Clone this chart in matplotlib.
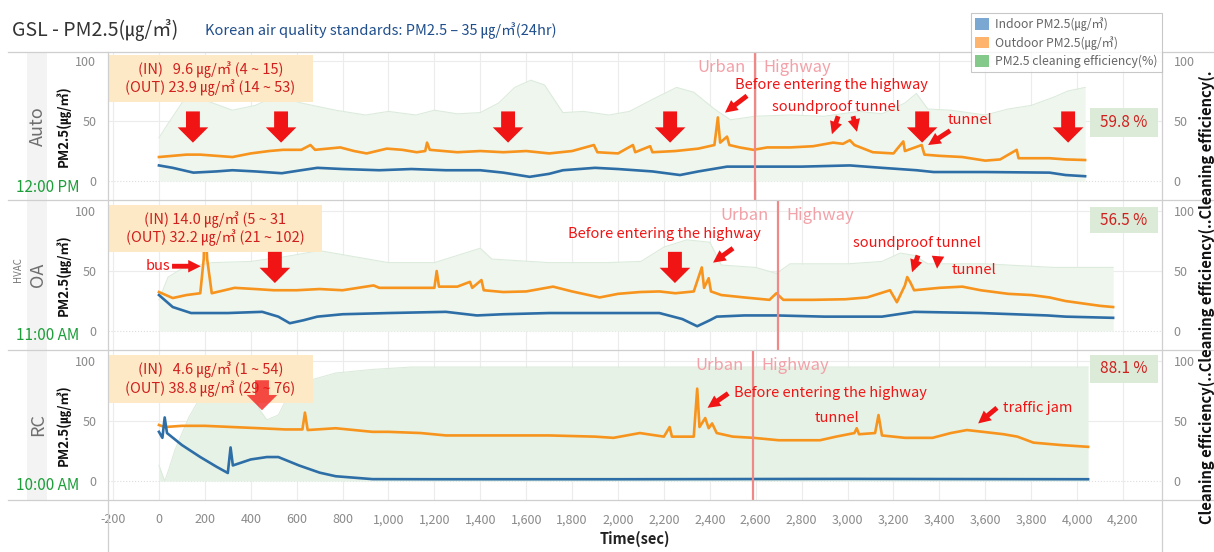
import matplotlib
matplotlib.use("Agg")
import matplotlib.pyplot as plt
from matplotlib.patches import Patch, Rectangle
from matplotlib.lines import Line2D

plt.rcParams['font.family'] = ['Noto Sans CJK KR', 'DejaVu Sans']

# ---------------- data (time in seconds, PM2.5 in ug/m3, efficiency in %) ----------------
x_ticks = list(range(-200, 4201, 200))

# Auto (12:00 PM)
auto_out_t = [0, 60, 120, 180, 250, 320, 400, 480, 540, 620, 660, 680, 790, 850, 905, 993, 1060, 1123,
              1160, 1168, 1180, 1300, 1400, 1500, 1600, 1700, 1800, 1895, 1910, 2000, 2065, 2075, 2140,
              2150, 2250, 2350, 2420, 2435, 2445, 2475, 2485, 2530, 2590, 2650, 2750, 2850, 2937, 2980,
              3010, 3030, 3110, 3200, 3243, 3250, 3323, 3335, 3400, 3500, 3600, 3665, 3737, 3745, 3800,
              3880, 3950, 4035]
auto_out = [20, 21, 22, 22, 21, 20, 23, 25, 26, 26, 30, 26, 28, 25, 23, 27, 26, 24,
            25, 32, 26, 24, 25, 24, 25, 23, 25, 30, 24, 23, 30, 24, 29,
            24, 25, 27, 30, 53, 32, 37, 30, 28, 26, 28, 28, 29, 32, 31,
            34, 30, 24, 23, 33, 25, 30, 22, 21, 20, 17, 18, 26, 19, 19,
            19, 18, 17.5]
auto_in_t = [0, 60, 150, 250, 320, 420, 535, 620, 690, 800, 960, 1100, 1250, 1400, 1500, 1615, 1700,
             1760, 1900, 2000, 2150, 2270, 2350, 2475, 2600, 2800, 3010, 3150, 3300, 3375, 3600, 3880,
             3950, 4035]
auto_in = [13, 11, 7, 8, 9, 8, 6.5, 9, 11, 10, 9, 10, 9, 9, 7, 3.5, 6,
           9, 11, 10, 8, 5, 8, 12, 12, 12, 13, 11, 9, 7.5, 7.5, 7,
           5, 4]
auto_eff_t = [0, 30, 110, 160, 220, 320, 420, 500, 540, 620, 770, 900, 1000, 1120, 1200, 1300, 1400,
              1480, 1550, 1620, 1680, 1760, 1850, 1960, 2050, 2150, 2255, 2330, 2420, 2490, 2600, 2750,
              2900, 3050, 3150, 3250, 3300, 3350, 3450, 3600, 3700, 3800, 3900, 3960, 4035]
auto_eff = [36, 45, 68, 70, 66, 59, 63, 70, 70, 65, 59, 55, 58, 55, 59, 56, 57,
            65, 78, 84, 80, 57, 58, 55, 58, 68, 78, 74, 60, 51, 54, 55,
            54, 58, 56, 65, 73, 60, 59, 55, 60, 63, 70, 75, 78]

# OA (11:00 AM)
oa_out_t = [0, 60, 120, 180, 195, 200, 210, 230, 330, 420, 500, 600, 700, 800, 935, 960, 1100, 1200,
            1210, 1220, 1300, 1355, 1365, 1405, 1415, 1500, 1600, 1717, 1800, 1920, 2000, 2095, 2180,
            2250, 2330, 2365, 2375, 2395, 2405, 2450, 2550, 2660, 2690, 2720, 2850, 2990, 3085, 3185,
            3215, 3250, 3260, 3275, 3290, 3400, 3500, 3580, 3700, 3800, 3880, 3950, 4025, 4100, 4157]
oa_out = [32.5, 27.5, 30, 31.5, 60, 100, 60, 31.5, 36, 35, 34, 34, 35, 34, 38, 36, 36, 36,
          50, 37, 37, 41, 36, 42.5, 34, 32.5, 33, 37, 33, 28, 31, 32.5, 33,
          31.5, 33, 53, 36, 44, 33, 30, 28, 26, 31.5, 26, 26, 26.5, 28, 34,
          24, 38, 45, 40, 34, 36, 37, 34, 31, 30, 28, 25, 23, 21, 20]
oa_in_t = [0, 30, 60, 140, 300, 450, 520, 570, 630, 690, 800, 1000, 1250, 1385, 1500, 1700, 2000,
           2180, 2280, 2345, 2400, 2430, 2550, 2690, 2900, 3150, 3290, 3580, 3870, 3950, 4157]
oa_in = [30, 25, 20, 15, 15, 16, 12, 6.5, 9, 12, 14, 15, 16, 13, 14, 15, 15,
         15, 10, 4, 9, 12, 13, 13, 12, 12, 16, 15, 13, 12, 11]
oa_eff_t = [0, 40, 100, 230, 400, 550, 700, 850, 1000, 1200, 1400, 1450, 1700, 1950, 2100, 2200,
            2300, 2400, 2450, 2600, 2690, 2750, 3000, 3150, 3230, 3290, 3350, 3600, 3900, 4157]
oa_eff = [26, 45, 52, 57, 58, 62, 67, 62, 57, 57, 69, 60, 57, 57, 58, 70,
          76, 74, 55, 53, 48, 56, 56, 58, 65, 63, 56, 56, 53, 53]

# RC (10:00 AM)
rc_out_t = [0, 25, 100, 200, 320, 440, 550, 625, 636, 648, 770, 930, 1000, 1140, 1250, 1500, 1700,
            1900, 1980, 2095, 2200, 2225, 2235, 2330, 2345, 2355, 2380, 2395, 2410, 2430, 2500, 2590,
            2700, 2880, 2950, 3030, 3040, 3050, 3120, 3135, 3150, 3250, 3370, 3450, 3520, 3590, 3680,
            3740, 3810, 3930, 4048]
rc_out = [46.7, 45, 46, 46, 45, 44, 43, 43, 57, 42.5, 44, 41, 41, 40, 38, 38, 38,
          37, 36, 40, 37, 45, 37, 37, 77, 45, 52.5, 44, 48, 40, 37, 36,
          34, 34, 37, 40, 44, 39, 40, 55, 38, 36, 36, 40, 42.5, 41, 39,
          37, 32, 30, 28.5]
rc_in_t = [0, 15, 25, 35, 100, 180, 250, 300, 312, 322, 400, 470, 520, 610, 700, 770, 930, 1200,
           2000, 3000, 4048]
rc_in = [41, 36, 53, 40, 30, 20, 12, 6.7, 28, 13, 18, 20, 20, 13, 7, 4, 1.6, 1.5,
         1.5, 1.8, 1.5]
rc_eff_t = [0, 25, 40, 70, 130, 190, 260, 330, 400, 440, 470, 520, 560, 620, 770, 930, 1100, 4048]
rc_eff = [13, 0, 8, 26, 53, 73, 80, 82, 80, 59, 51, 55, 70, 82, 90, 93, 95, 95]

# ---------------- style ----------------
C_IN = '#2e6ea6'
C_OUT = '#f7941d'
RED = '#f01414'
BOX_RED = '#d0201e'
PINK = '#f3a1a8'
GRID = '#ececec'
FRAME = '#cfcfcf'

W_PX, H_PX = 1214, 552
fig = plt.figure(figsize=(W_PX / 100, H_PX / 100), dpi=100)


def fx(px):
    return px / W_PX


def fy(py):
    return 1 - py / H_PX


L = fx(108)
W = fx(1162) - fx(108)

# background column behind the row names
fig.add_artist(Rectangle((fx(27), fy(500)), fx(20), fy(52) - fy(500), transform=fig.transFigure,
                         color='#f3f3f3', lw=0, zorder=0))

ax_auto = fig.add_axes([L, fy(200), W, 148 / H_PX])
ax_oa = fig.add_axes([L, fy(350), W, 150 / H_PX])
ax_rc = fig.add_axes([L, fy(500), W, 150 / H_PX])

panels = [
    (ax_auto, auto_out_t, auto_out, auto_in_t, auto_in, auto_eff_t, auto_eff, (-15.8, 107.5), '#eef6ee'),
    (ax_oa, oa_out_t, oa_out, oa_in_t, oa_in, oa_eff_t, oa_eff, (-15.8, 109.2), '#eef6ee'),
    (ax_rc, rc_out_t, rc_out, rc_in_t, rc_in, rc_eff_t, rc_eff, (-15.8, 109.2), '#e6f2e6'),
]

for ax, ot, ov, it, iv, et, ev, ylim, fill_c in panels:
    ax.set_facecolor('none')
    ax.fill_between(et, 0, ev, color=fill_c, lw=0, zorder=1)
    ax.plot(et, ev, color='#dcebdc', lw=0.8, zorder=1.5)
    ax.plot(ot, ov, color=C_OUT, lw=1.9, zorder=3)
    ax.plot(it, iv, color=C_IN, lw=1.9, zorder=3)
    ax.set_xlim(-222, 4370)
    ax.set_ylim(*ylim)
    ax.set_xticks(x_ticks)
    ax.set_yticks([0, 50, 100])
    for x in x_ticks:
        ax.axvline(x, color=GRID, lw=0.8, zorder=0.5)
    ax.axhline(50, color=GRID, lw=0.8, zorder=0.5)
    ax.axhline(100, color=GRID, lw=0.8, zorder=0.5)
    ax.axhline(0, color='#dddddd', lw=0.8, ls=':', zorder=0.5)
    for s in ax.spines.values():
        s.set_visible(False)
    ax.tick_params(axis='y', left=False, right=False, labelleft=True, labelright=True,
                   labelsize=9, labelcolor='#8a8a8a', pad=5)
    ax.tick_params(axis='x', bottom=False, labelbottom=False)

ax_rc.tick_params(axis='x', labelbottom=True, labelsize=9, labelcolor='#8a8a8a', pad=6)
ax_rc.set_xticklabels([f'{v:,}' for v in x_ticks])
ax_rc.set_xlabel('Time(sec)', fontsize=10.5, fontweight='bold', color='#222', labelpad=3)

# frame lines
for y0 in (52, 200, 350, 500):
    fig.add_artist(Line2D([fx(8), 1], [fy(y0), fy(y0)], transform=fig.transFigure, color=FRAME, lw=0.9))
for x0 in (108, 1162):
    fig.add_artist(Line2D([fx(x0), fx(x0)], [fy(52), 0], transform=fig.transFigure, color=FRAME, lw=0.9))

# urban / highway split
for ax, t_split, yv in [(ax_auto, 2597, 95), (ax_oa, 2697, 96), (ax_rc, 2588, 96)]:
    ax.axvline(t_split, color='#f08888', lw=1.6, zorder=4)
    ax.annotate('Urban', xy=(t_split, yv), xytext=(-7, 0), textcoords='offset points',
                ha='right', va='center', color=PINK, fontsize=12)
    ax.annotate('Highway', xy=(t_split, yv), xytext=(6, 0), textcoords='offset points',
                ha='left', va='center', color=PINK, fontsize=12)


def big_arrow(ax, t, y0, y1, alpha=1.0):
    ax.annotate('', xy=(t, y1), xytext=(t, y0),
                arrowprops=dict(arrowstyle='simple,head_length=1.1,head_width=2.2,tail_width=1.0',
                                color=RED, lw=0, shrinkA=0, shrinkB=0, alpha=alpha, mutation_scale=10),
                zorder=6)


def small_arrow(ax, t0, y0, t1, y1):
    ax.annotate('', xy=(t1, y1), xytext=(t0, y0),
                arrowprops=dict(arrowstyle='simple,head_length=0.9,head_width=0.9,tail_width=0.35',
                                color=RED, lw=0, shrinkA=0, shrinkB=0, mutation_scale=10),
                zorder=6)


def note(ax, t, y, s, ha='left'):
    ax.text(t, y, s, color=RED, fontsize=10.5, ha=ha, va='center', zorder=6)


def stat_box(ax, x1, y0, y1, text):
    ax.add_patch(Rectangle((0, y0), x1, y1 - y0, transform=ax.transAxes, color='#fde9c6', lw=0, zorder=5))
    ax.text(x1 / 2, (y0 + y1) / 2, text, transform=ax.transAxes, ha='center', va='center',
            multialignment='center', color=BOX_RED, fontsize=10.5, linespacing=1.15, zorder=6)


def pct_box(ax, y0, y1, text):
    ax.add_patch(Rectangle((0.932, y0), 0.064, y1 - y0, transform=ax.transAxes, color='#dcebd8', lw=0, zorder=5))
    ax.text(0.964, (y0 + y1) / 2, text, transform=ax.transAxes, ha='center', va='center',
            color=BOX_RED, fontsize=11, zorder=6)


# Auto annotations
stat_box(ax_auto, 0.1945, 0.662, 0.98, '(IN)   9.6 ㎍/㎥ (4 ~ 15)\n(OUT) 23.9 ㎍/㎥ (14 ~ 53)')
pct_box(ax_auto, 0.426, 0.622, '59.8 %')
for t in (148, 532, 1521, 2227, 3325, 3961):
    big_arrow(ax_auto, t, 58, 32)
note(ax_auto, 2510, 80, 'Before entering the highway')
small_arrow(ax_auto, 2562, 71, 2466, 57)
note(ax_auto, 2671, 62, 'soundproof tunnel')
small_arrow(ax_auto, 2959, 54, 2932, 39)
small_arrow(ax_auto, 3024, 54, 3041, 41)
note(ax_auto, 3438, 51, 'tunnel')
small_arrow(ax_auto, 3447, 42, 3351, 30)

# OA annotations
stat_box(ax_oa, 0.203, 0.653, 0.967, '(IN) 14.0 ㎍/㎥ (5 ~ 31\n(OUT) 32.2 ㎍/㎥ (21 ~ 102)')
pct_box(ax_oa, 0.78, 0.953, '56.5 %')
for t in (505, 2248):
    big_arrow(ax_oa, t, 66, 40)
note(ax_oa, 50, 54, 'bus', ha='right')
small_arrow(ax_oa, 57, 54, 182, 54)
note(ax_oa, 1782, 81, 'Before entering the highway')
small_arrow(ax_oa, 2501, 69, 2414, 57)
note(ax_oa, 3024, 73, 'soundproof tunnel')
small_arrow(ax_oa, 3307, 63, 3281, 49)
small_arrow(ax_oa, 3394, 62, 3390, 52)
note(ax_oa, 3455, 51, 'tunnel')

# RC annotations
stat_box(ax_rc, 0.1945, 0.647, 0.967, '(IN)   4.6 ㎍/㎥ (1 ~ 54)\n(OUT) 38.8 ㎍/㎥ (29 ~ 76)')
pct_box(ax_rc, 0.78, 0.967, '88.1 %')
big_arrow(ax_rc, 449, 84, 59, alpha=0.75)
note(ax_rc, 2505, 73, 'Before entering the highway')
small_arrow(ax_rc, 2480, 73, 2390, 61)
note(ax_rc, 2954, 52.5, 'tunnel', ha='center')
note(ax_rc, 3678, 61, 'traffic jam')
small_arrow(ax_rc, 3651, 61, 3569, 48)

# left-side labels
for name, time_lbl, yc in [('Auto', '12:00 PM', 126), ('OA', '11:00 AM', 275), ('RC', '10:00 AM', 425)]:
    fig.text(fx(38), fy(yc), name, rotation=90, ha='center', va='center', fontsize=13, color='#6e6e6e')
    fig.text(fx(63), fy(yc), 'PM2.5(㎍/㎥)', rotation=90, ha='center', va='center',
             fontsize=9.5, fontweight='bold', color='#111')
    fig.text(fx(48), fy(yc + 61), time_lbl, ha='center', va='center', fontsize=11, color='#1e9e3a')
fig.text(fx(18), fy(270), 'HVAC', rotation=90, ha='center', va='center', fontsize=7, color='#777')

# right-side label
fig.text(fx(1207), fy(297), 'Cleaning efficiency(..Cleaning efficiency(..Cleaning efficiency(.',
         rotation=90, ha='center', va='center', fontsize=10.6, fontweight='bold', color='#111')

# header
fig.text(fx(12), fy(30), 'GSL - PM2.5(㎍/㎥)', ha='left', va='center', fontsize=14, color='#333')
fig.text(fx(205), fy(31), 'Korean air quality standards: PM2.5 – 35 ㎍/㎥(24hr)', ha='left',
         va='center', fontsize=10.5, color='#1f4e8c')

handles = [Patch(facecolor='#7ba7d3', edgecolor='none'),
           Patch(facecolor='#ffb46e', edgecolor='none'),
           Patch(facecolor='#84c98a', edgecolor='none')]
labels = ['Indoor PM2.5(㎍/㎥)', 'Outdoor PM2.5(㎍/㎥)', 'PM2.5 cleaning efficiency(%)']
leg = fig.legend(handles, labels, loc='upper left', bbox_to_anchor=(fx(965), fy(7)), fontsize=8.8,
                 frameon=True, fancybox=False, edgecolor='#bbbbbb', handlelength=1.1, handleheight=1.1,
                 handletextpad=0.5, labelspacing=0.4, borderpad=0.35, labelcolor='#666')
leg.get_frame().set_linewidth(0.8)

fig.savefig('out.png', dpi=100)
